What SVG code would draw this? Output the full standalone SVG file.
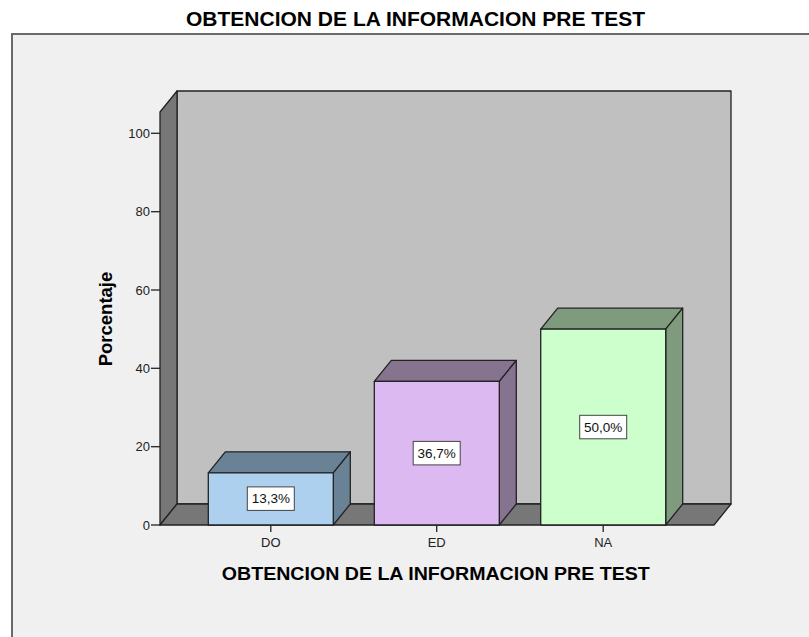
<svg xmlns="http://www.w3.org/2000/svg" width="809" height="637" viewBox="0 0 809 637">
<style>
.edge{stroke:#222;stroke-width:1.3;stroke-linejoin:round}
.tick{stroke:#222;stroke-width:1.3}
.tl{font-family:"Liberation Sans",Arial,sans-serif;font-size:13px;fill:#222}
.cat{font-family:"Liberation Sans",Arial,sans-serif;font-size:13px;fill:#222;text-anchor:middle}
.val{font-family:"Liberation Sans",Arial,sans-serif;font-size:13.5px;fill:#111;text-anchor:middle}
.box{fill:#fff;stroke:#444;stroke-width:1}
.bold{font-family:"Liberation Sans",Arial,sans-serif;font-weight:bold;fill:#000}
</style>
<rect x="0" y="0" width="809" height="637" fill="#fff"/>
<text class="bold" x="415.5" y="26" font-size="20" text-anchor="middle" textLength="459" lengthAdjust="spacingAndGlyphs">OBTENCION DE LA INFORMACION PRE TEST</text>
<rect x="12" y="34" width="820" height="620" fill="#f0f0f0" stroke="#6a6a6a" stroke-width="2"/>

<g id="walls">
  <rect class="edge" x="177" y="91" width="554" height="413" fill="#c0c0c0"/>
  <polygon class="edge" points="160,112 177,91 177,504 160,525" fill="#777"/>
  <polygon class="edge" points="160,525 177,504 731,504 714,525" fill="#777"/>
</g>

<g id="y-axis">
  <line class="tick" x1="151" y1="525" x2="160" y2="525"/>
  <line class="tick" x1="151" y1="446.7" x2="160" y2="446.7"/>
  <line class="tick" x1="151" y1="368.3" x2="160" y2="368.3"/>
  <line class="tick" x1="151" y1="290" x2="160" y2="290"/>
  <line class="tick" x1="151" y1="211.7" x2="160" y2="211.7"/>
  <line class="tick" x1="151" y1="133.3" x2="160" y2="133.3"/>
  <text class="tl" x="150" y="529.5" text-anchor="end">0</text>
  <text class="tl" x="150" y="451.2" text-anchor="end">20</text>
  <text class="tl" x="150" y="372.8" text-anchor="end">40</text>
  <text class="tl" x="150" y="294.5" text-anchor="end">60</text>
  <text class="tl" x="150" y="216.2" text-anchor="end">80</text>
  <text class="tl" x="150" y="137.8" text-anchor="end">100</text>
  <text class="bold" font-size="18.5" transform="translate(112,319) rotate(-90)" text-anchor="middle">Porcentaje</text>
</g>

<g id="bar-DO">
  <polygon class="edge" points="208.3,472.8 225.3,451.8 350.3,451.8 333.3,472.8" fill="#6a8296"/>
  <polygon class="edge" points="333.3,472.8 350.3,451.8 350.3,504 333.3,525" fill="#6a8296"/>
  <rect class="edge" x="208.3" y="472.8" width="125" height="52.2" fill="#acd0ee"/>
  <rect class="box" x="247.3" y="486.9" width="47" height="23.5"/>
  <text class="val" x="270.8" y="503.4">13,3%</text>
  <line class="tick" x1="270.8" y1="525" x2="270.8" y2="532"/>
  <text class="cat" x="270.8" y="546.5">DO</text>
</g>

<g id="bar-ED">
  <polygon class="edge" points="374.3,381.4 391.3,360.4 516.3,360.4 499.3,381.4" fill="#86738f"/>
  <polygon class="edge" points="499.3,381.4 516.3,360.4 516.3,504 499.3,525" fill="#86738f"/>
  <rect class="edge" x="374.3" y="381.4" width="125" height="143.6" fill="#dcb9f0"/>
  <rect class="box" x="413.2" y="441.4" width="47" height="23.5"/>
  <text class="val" x="436.7" y="457.9">36,7%</text>
  <line class="tick" x1="436.7" y1="525" x2="436.7" y2="532"/>
  <text class="cat" x="436.7" y="546.5">ED</text>
</g>

<g id="bar-NA">
  <polygon class="edge" points="540.7,329.2 557.7,308.2 682.7,308.2 665.7,329.2" fill="#7e9b7e"/>
  <polygon class="edge" points="665.7,329.2 682.7,308.2 682.7,504 665.7,525" fill="#7e9b7e"/>
  <rect class="edge" x="540.7" y="329.2" width="125" height="195.8" fill="#ccffcc"/>
  <rect class="box" x="579.7" y="415.3" width="47" height="23.5"/>
  <text class="val" x="603.2" y="431.8">50,0%</text>
  <line class="tick" x1="603.2" y1="525" x2="603.2" y2="532"/>
  <text class="cat" x="603.2" y="546.5">NA</text>
</g>

<g id="connectors"></g>

<text class="bold" x="435.8" y="580" font-size="18.5" text-anchor="middle" textLength="428" lengthAdjust="spacingAndGlyphs">OBTENCION DE LA INFORMACION PRE TEST</text>
</svg>
